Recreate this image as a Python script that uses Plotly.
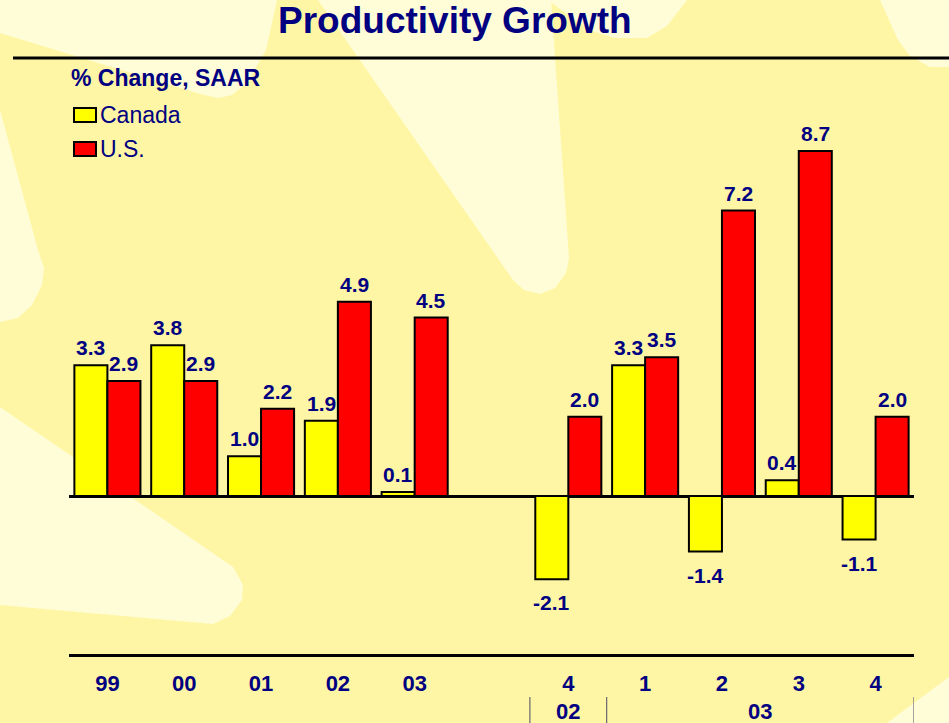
import plotly.graph_objects as go

# ---------------- data ----------------
categories = ["99", "00", "01", "02", "03", "", "4", "1", "2", "3", "4"]
canada = [3.3, 3.8, 1.0, 1.9, 0.1, None, -2.1, 3.3, -1.4, 0.4, -1.1]
us = [2.9, 2.9, 2.2, 4.9, 4.5, None, 2.0, 3.5, 7.2, 8.7, 2.0]
group_labels = ["02", "03"]
group_centers = [6, 8.5]
group_dividers = [5.5, 6.5, 10.5]

title = "Productivity Growth"
unit_label = "% Change, SAAR"
series_names = ["Canada", "U.S."]

# ---------------- style ----------------
W, H = 949, 723
L, R, T, B = 69, 914, 57, 654          # plot area in pixels
NAVY = "#000080"
BG_DARK = "#FFF6A5"
BG_LIGHT = "#FFFDD8"
FONT = "Liberation Sans, Arial, sans-serif"
CAN_COLOR = "#FFFF00"
US_COLOR = "#FF0000"
BARGAP = 0.14

x = list(range(len(categories)))
tickvals = [i for i, c in enumerate(categories) if c != ""]
ticktext = [c for c in categories if c != ""]

fig = go.Figure()
fig.add_trace(go.Bar(x=x, y=canada, name=series_names[0],
                     marker=dict(color=CAN_COLOR, line=dict(color="black", width=2)),
                     showlegend=False, hoverinfo="y"))
fig.add_trace(go.Bar(x=x, y=us, name=series_names[1],
                     marker=dict(color=US_COLOR, line=dict(color="black", width=2)),
                     showlegend=False, hoverinfo="y"))

# value labels
half = (1 - BARGAP) / 4.0
for series, off in ((canada, -half), (us, half)):
    for i, v in enumerate(series):
        if v is None:
            continue
        pos = v >= 0
        fig.add_annotation(x=i + off, y=v, xref="x", yref="y",
                           text=f"{v:.1f}", showarrow=False,
                           yanchor="bottom" if pos else "top",
                           yshift=4 if pos else -10,
                           font=dict(family=FONT, size=21, color=NAVY, weight="bold"))

def px2paper(px, py):
    return (px - L) / (R - L), (B - py) / (B - T)

def poly(points):
    s = ""
    for k, (px, py) in enumerate(points):
        a, b = px2paper(px, py)
        s += ("M" if k == 0 else "L") + f"{a:.5f},{b:.5f} "
    return s + "Z"

# decorative light rays in background
rays = [
    [(0, 0), (277, 0), (266, 50), (248, 82), (232, 95), (218, 98), (200, 94), (0, 33)],
    [(0, 110), (38, 250), (44, 268), (42, 285), (32, 305), (18, 318), (0, 322)],
    [(318, 0), (513, 280), (524, 290), (540, 294), (555, 288), (566, 273), (569, 258), (551, 0)],
    [(548, 0), (575, 20), (595, 32), (615, 38), (647, 38), (667, 26), (687, 0)],
    [(880, 0), (898, 40), (910, 56), (930, 67), (949, 67), (949, 0)],
    [(0, 407), (233, 567), (243, 585), (242, 600), (230, 616), (213, 624), (0, 605)],
    [(949, 677), (949, 723), (887, 723)],
]
for r in rays:
    fig.add_shape(type="path", path=poly(r), xref="paper", yref="paper",
                  fillcolor=BG_LIGHT, line=dict(width=0), layer="below")

# header rule
x0, _ = px2paper(13, 0)
x1, _ = px2paper(949, 0)
_, yh = px2paper(0, 58)
fig.add_shape(type="line", xref="paper", yref="paper", x0=x0, x1=x1, y0=yh, y1=yh,
              line=dict(color="black", width=3))

# title
tx, ty = px2paper(455, 21)
fig.add_annotation(x=tx, y=ty, xref="paper", yref="paper", text=title, showarrow=False,
                   xanchor="center", yanchor="middle",
                   font=dict(family=FONT, size=37, color=NAVY, weight="bold"))

# unit label
ux, uy = px2paper(69, 78)
fig.add_annotation(x=ux, y=uy, xref="paper", yref="paper", text=unit_label, showarrow=False,
                   xanchor="left", yanchor="middle",
                   font=dict(family=FONT, size=23, color=NAVY, weight="bold"))

# manual legend
for name, color, cy in ((series_names[0], CAN_COLOR, 115), (series_names[1], US_COLOR, 149)):
    bx0, by0 = px2paper(74, cy - 7)
    bx1, by1 = px2paper(96, cy + 7)
    fig.add_shape(type="rect", xref="paper", yref="paper", x0=bx0, x1=bx1, y0=by0, y1=by1,
                  fillcolor=color, line=dict(color="black", width=2))
    lx, ly = px2paper(98, cy)
    fig.add_annotation(x=lx, y=ly, xref="paper", yref="paper", text=name, showarrow=False,
                       xanchor="left", yanchor="middle",
                       font=dict(family=FONT, size=23, color=NAVY))

# second-level category labels and dividers
_, gy = px2paper(0, 711)
for lab, cx in zip(group_labels, group_centers):
    fig.add_annotation(x=cx, y=gy, xref="x", yref="paper", text=lab, showarrow=False,
                       yanchor="middle",
                       font=dict(family=FONT, size=22, color=NAVY, weight="bold"))
_, dy0 = px2paper(0, 697)
_, dy1 = px2paper(0, 723)
for d in group_dividers:
    fig.add_shape(type="line", xref="x", yref="paper", x0=d, x1=d, y0=dy0, y1=dy1,
                  line=dict(color="#4A4A6A", width=1))

px_per_unit = 39.65
zero_px = 496
fig.update_layout(
    width=W, height=H,
    margin=dict(l=L, r=W - R, t=T, b=H - B, pad=0),
    paper_bgcolor=BG_DARK, plot_bgcolor="rgba(0,0,0,0)",
    barmode="group", bargap=BARGAP, bargroupgap=0,
    showlegend=False,
    xaxis=dict(range=[-0.5, len(categories) - 0.5], tickmode="array",
               tickvals=tickvals, ticktext=ticktext,
               showgrid=False, zeroline=False,
               showline=True, linecolor="black", linewidth=3,
               ticks="outside", ticklen=8, tickcolor="rgba(0,0,0,0)",
               tickfont=dict(family=FONT, size=22, color=NAVY, weight="bold"),
               fixedrange=True),
    yaxis=dict(range=[-(B - zero_px) / px_per_unit, (zero_px - T) / px_per_unit],
               showgrid=False, showticklabels=False, ticks="",
               zeroline=True, zerolinecolor="black", zerolinewidth=3,
               showline=False, fixedrange=True),
)

fig.write_html("out.html", config={"displayModeBar": False},
               post_script="document.body.style.margin='0';document.body.style.padding='0';")
